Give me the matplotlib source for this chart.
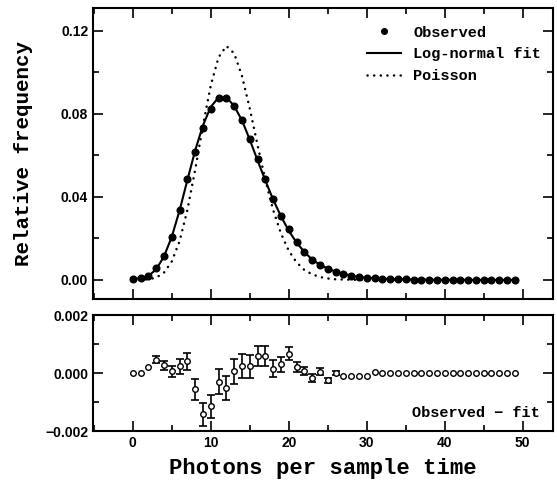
import matplotlib
matplotlib.use("Agg")
import matplotlib.pyplot as plt
from matplotlib.ticker import MultipleLocator, FixedLocator, FixedFormatter
import numpy as np

# ---- data ----
photons = list(range(50))
observed = [0.0005, 0.0008, 0.0021, 0.0056, 0.0116, 0.0209, 0.0337, 0.0485, 0.0618, 0.0731,
            0.0822, 0.0876, 0.0876, 0.0839, 0.0771, 0.0678, 0.0582, 0.0485, 0.0389, 0.0310,
            0.0244, 0.0182, 0.0136, 0.0096, 0.0072, 0.0052, 0.0040, 0.0029, 0.0019, 0.0013,
            0.0011, 0.0008, 0.0006, 0.0005, 0.0004, 0.0003, 0.0002, 0.0002, 0.0001, 0.0001,
            0.0001, 0.0001, 0.0001, 0.0, 0.0, 0.0, 0.0, 0.0, 0.0, 0.0]
lognormal_fit = [0.0005, 0.0008, 0.0019, 0.0051, 0.0113, 0.0208, 0.0335, 0.0481, 0.0624, 0.0745,
                 0.0834, 0.0879, 0.0881, 0.0838, 0.0769, 0.0676, 0.0576, 0.0479, 0.0387, 0.0307,
                 0.0237, 0.0180, 0.0135, 0.0098, 0.0073, 0.0055, 0.0040, 0.0030, 0.0021, 0.0014,
                 0.0011, 0.0008, 0.0006, 0.0005, 0.0004, 0.0003, 0.0002, 0.0002, 0.0001, 0.0001,
                 0.0001, 0.0001, 0.0001, 0.0, 0.0, 0.0, 0.0, 0.0, 0.0, 0.0]
poisson_x = list(range(36))
poisson = [0.0, 0.00004, 0.0003, 0.0011, 0.0035, 0.0089, 0.0187, 0.0337, 0.0531, 0.0744,
           0.0937, 0.1073, 0.1127, 0.1092, 0.0983, 0.0826, 0.0650, 0.0482, 0.0337, 0.0224,
           0.0141, 0.0085, 0.0048, 0.0027, 0.0014, 0.0007, 0.0003, 0.0002, 0.0001, 0.0,
           0.0, 0.0, 0.0, 0.0, 0.0, 0.0]
residual = [0.0, 0.0, 0.0002, 0.00046, 0.00027, 0.00007, 0.00024, 0.00041, -0.00056, -0.00142,
            -0.00115, -0.00029, -0.00052, 0.00006, 0.00025, 0.00023, 0.00059, 0.0006, 0.00016, 0.00031,
            0.00067, 0.00021, 0.00007, -0.00017, 0.00005, -0.00025, 0.0, -0.0001, -0.0001, -0.0001,
            -0.0001, 0.00005, 0.0, 0.0, 0.0, 0.0, 0.0, 0.0, 0.0, 0.0,
            0.0, 0.0, 0.0, 0.0, 0.0, 0.0, 0.0, 0.0, 0.0, 0.0]
residual_err = [0.0, 0.0, 0.0, 0.00012, 0.00015, 0.00019, 0.00026, 0.0003, 0.00036, 0.00039,
                0.00041, 0.00042, 0.00042, 0.00042, 0.0004, 0.00038, 0.00036, 0.00035, 0.00029, 0.00026,
                0.00023, 0.00017, 0.00014, 0.00013, 0.00012, 0.0001, 0.00008] + [0.0] * 23
top_yticks = [0.00, 0.04, 0.08, 0.12]
top_yticklabels = ["0.00", "0.04", "0.08", "0.12"]
bot_yticks = [-0.002, 0.0, 0.002]
bot_yticklabels = ["\u22120.002", "0.000", "0.002"]
xticks = [0, 10, 20, 30, 40, 50]

tick_font = dict(family="Liberation Sans", weight="bold", size=10)
mono = ["Liberation Mono", "DejaVu Sans Mono"]

fig = plt.figure(figsize=(5.57, 4.91), dpi=100)
ax1 = fig.add_axes([0.167, 0.391, 0.826, 0.593])
ax2 = fig.add_axes([0.167, 0.122, 0.826, 0.236])

for ax in (ax1, ax2):
    for s in ax.spines.values():
        s.set_linewidth(1.5)
    ax.set_xlim(-5.1, 53.9)
    ax.xaxis.set_major_locator(FixedLocator(xticks))
    ax.xaxis.set_minor_locator(MultipleLocator(5))
    ax.tick_params(which="both", direction="in", top=True, right=True, width=1.2)
    ax.tick_params(which="major", length=7)
    ax.tick_params(which="minor", length=4.5)

# top panel
ax1.plot(photons, lognormal_fit, color="black", lw=1.5, label="Log-normal fit", zorder=2)
ax1.plot(poisson_x, poisson, color="black", lw=1.8, linestyle=(0, (0.05, 2.6)),
         dash_capstyle="round", label="Poisson", zorder=1)
ax1.plot(photons, observed, "o", color="black", ms=4.8, label="Observed", zorder=3)
ax1.set_ylim(-0.0092, 0.1311)
ax1.yaxis.set_major_locator(FixedLocator(top_yticks))
ax1.yaxis.set_major_formatter(FixedFormatter(top_yticklabels))
ax1.yaxis.set_minor_locator(MultipleLocator(0.02))
ax1.set_xticklabels([])
for lab in ax1.get_yticklabels():
    lab.set(**tick_font)
ax1.set_ylabel("Relative frequency", family=mono, weight="bold", size=15, labelpad=20)

h, l = ax1.get_legend_handles_labels()
order = [2, 0, 1]
leg = ax1.legend([h[i] for i in order], [l[i] for i in order], loc="upper right",
                 frameon=False, handlelength=2.2, handletextpad=0.8, labelspacing=0.5,
                 borderaxespad=0.3, prop=dict(family=mono, weight="bold", size=11),
                 bbox_to_anchor=(0.997, 0.975), markerscale=0.85)

# bottom panel
ax2.set_ylim(-0.002, 0.002)
ax2.yaxis.set_major_locator(FixedLocator(bot_yticks))
ax2.yaxis.set_major_formatter(FixedFormatter(bot_yticklabels))
ax2.yaxis.set_minor_locator(MultipleLocator(0.001))
px = [x for x, e in zip(photons, residual_err) if e > 0]
py = [r for r, e in zip(residual, residual_err) if e > 0]
pe = [e for e in residual_err if e > 0]
ax2.errorbar(px, py, yerr=pe, fmt="none", ecolor="black", elinewidth=1.2, capsize=3.2,
             capthick=1.2)
ax2.plot(photons, residual, "o", mfc="white", mec="black", mew=1.0, ms=4.0)
for lab in ax2.get_yticklabels() + ax2.get_xticklabels():
    lab.set(**tick_font)
ax2.set_xlabel("Photons per sample time", family=mono, weight="bold", size=16, labelpad=6)
ax2.text(0.97, 0.1, "Observed \u2212 fit", transform=ax2.transAxes, ha="right", va="bottom",
         family=mono, weight="bold", size=11)

fig.savefig("out.png", dpi=100)
